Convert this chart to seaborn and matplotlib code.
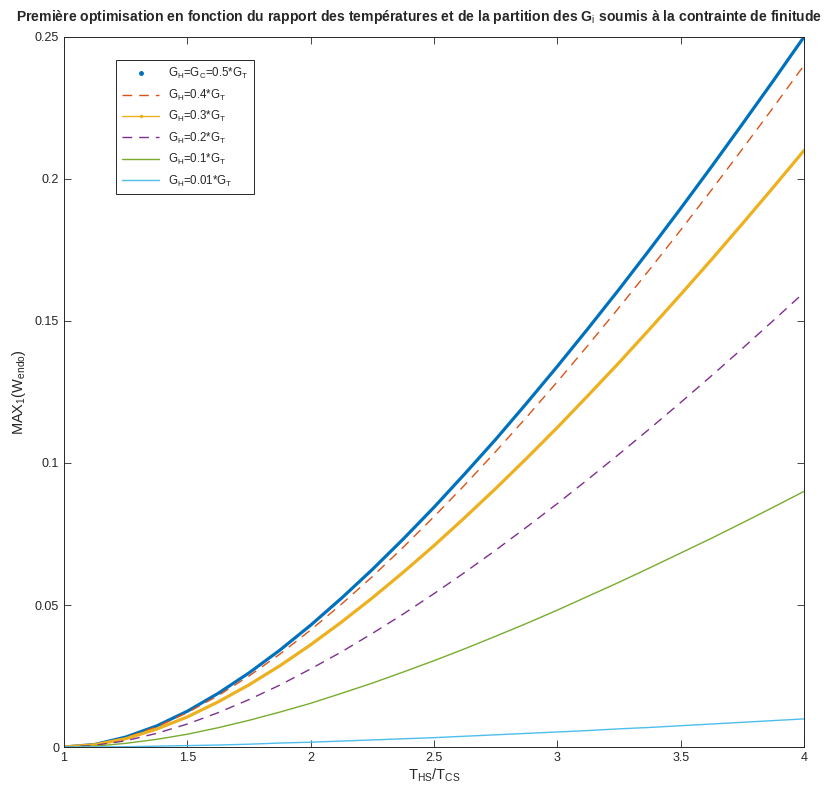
import matplotlib
matplotlib.use("Agg")
import matplotlib.pyplot as plt
from matplotlib.lines import Line2D
import seaborn as sns
import pandas as pd

# ratio T_HS/T_CS
tau = [1.0, 1.125, 1.25, 1.375, 1.5, 1.625, 1.75, 1.875, 2.0, 2.125, 2.25, 2.375, 2.5,
       2.625, 2.75, 2.875, 3.0, 3.125, 3.25, 3.375, 3.5, 3.625, 3.75, 3.875, 4.0]

# values, one list per G_H partition
w_05 = [0, 0.0009, 0.0035, 0.0074, 0.0126, 0.0189, 0.0261, 0.0341, 0.0429, 0.0524, 0.0625, 0.0732, 0.0844,
        0.0962, 0.1083, 0.1210, 0.1340, 0.1474, 0.1611, 0.1752, 0.1896, 0.2043, 0.2193, 0.2345, 0.25]
w_04 = [0, 0.0009, 0.0033, 0.0071, 0.0121, 0.0181, 0.0250, 0.0327, 0.0412, 0.0503, 0.0600, 0.0703, 0.0811,
        0.0923, 0.1040, 0.1161, 0.1286, 0.1415, 0.1547, 0.1682, 0.1820, 0.1961, 0.2105, 0.2251, 0.24]
w_03 = [0, 0.0008, 0.0029, 0.0063, 0.0106, 0.0159, 0.0219, 0.0286, 0.0360, 0.0440, 0.0525, 0.0615, 0.0709,
        0.0808, 0.0910, 0.1016, 0.1125, 0.1238, 0.1353, 0.1472, 0.1593, 0.1716, 0.1842, 0.1970, 0.21]
w_02 = [0, 0.0006, 0.0022, 0.0048, 0.0081, 0.0121, 0.0167, 0.0218, 0.0275, 0.0335, 0.0400, 0.0468, 0.0540,
        0.0615, 0.0693, 0.0774, 0.0857, 0.0943, 0.1031, 0.1121, 0.1213, 0.1307, 0.1403, 0.1501, 0.16]
w_01 = [0, 0.0003, 0.0013, 0.0027, 0.0045, 0.0068, 0.0094, 0.0123, 0.0154, 0.0189, 0.0225, 0.0264, 0.0304,
        0.0346, 0.0390, 0.0435, 0.0482, 0.0531, 0.0580, 0.0631, 0.0683, 0.0735, 0.0789, 0.0844, 0.09]
w_001 = [0, 0.00004, 0.0001, 0.0003, 0.0005, 0.0007, 0.0010, 0.0014, 0.0017, 0.0021, 0.0025, 0.0029, 0.0033,
         0.0038, 0.0043, 0.0048, 0.0053, 0.0058, 0.0064, 0.0069, 0.0075, 0.0081, 0.0087, 0.0093, 0.0099]

labels = [r"G$_H$=G$_C$=0.5*G$_T$", r"G$_H$=0.4*G$_T$", r"G$_H$=0.3*G$_T$",
          r"G$_H$=0.2*G$_T$", r"G$_H$=0.1*G$_T$", r"G$_H$=0.01*G$_T$"]
series = [w_05, w_04, w_03, w_02, w_01, w_001]
colors = ["#0072BD", "#D95319", "#EDB120", "#7E2F8E", "#77AC30", "#4DBEEE"]
styles = ["-", (0, (7, 5)), "-", (0, (7, 5)), "-", "-"]
widths = [2.3, 1.0, 2.3, 1.0, 1.0, 1.0]

sns.set_style("white")
plt.rcParams["font.family"] = ["Liberation Sans", "DejaVu Sans"]
plt.rcParams["mathtext.fontset"] = "custom"
plt.rcParams["mathtext.rm"] = "Liberation Sans"
plt.rcParams["mathtext.it"] = "Liberation Sans"

fig = plt.figure(figsize=(8.38, 7.89), dpi=100)
ax = fig.add_axes([0.0764, 0.0532, 0.883, 0.900])

for vals, c, ls, lw in zip(series, colors, styles, widths):
    df = pd.DataFrame({"tau": tau, "w": vals})
    sns.lineplot(data=df, x="tau", y="w", ax=ax, color=c, linestyle=ls, linewidth=lw)

ax.set_xlim(1, 4)
ax.set_ylim(0, 0.25)
ax.set_xticks([1, 1.5, 2, 2.5, 3, 3.5, 4])
ax.set_xticklabels(["1", "1.5", "2", "2.5", "3", "3.5", "4"])
ax.set_yticks([0, 0.05, 0.1, 0.15, 0.2, 0.25])
ax.set_yticklabels(["0", "0.05", "0.1", "0.15", "0.2", "0.25"])
ax.tick_params(direction="in", length=5, width=0.6, labelsize=9, top=True, right=True,
               bottom=True, left=True, labeltop=False, labelright=False)
for s in ax.spines.values():
    s.set_linewidth(0.7)
    s.set_color("#262626")

ax.set_xlabel(r"T$_{HS}$/T$_{CS}$", fontsize=10.5, labelpad=2)
ax.set_ylabel(r"MAX$_1$(W$_{endo}$)", fontsize=10.5, labelpad=5)
fig.text(0.5, 0.978,
         "Première optimisation en fonction du rapport des températures et de la partition des G$_\\mathrm{i}$ soumis à la contrainte de finitude",
         ha="center", va="center", fontsize=10.1, fontweight="bold")

handles = [
    Line2D([], [], color=colors[0], linestyle="none", marker=".", markersize=5),
    Line2D([], [], color=colors[1], linestyle=(0, (7, 5)), linewidth=1),
    Line2D([], [], color=colors[2], linestyle="-", marker=".", markersize=3, linewidth=1),
    Line2D([], [], color=colors[3], linestyle=(0, (7, 5)), linewidth=1),
    Line2D([], [], color=colors[4], linestyle="-", linewidth=1),
    Line2D([], [], color=colors[5], linestyle="-", linewidth=1),
]
leg = ax.legend(handles, labels, loc="upper left", bbox_to_anchor=(0.063, 0.975),
                fontsize=8.3, frameon=True, fancybox=False, framealpha=1,
                edgecolor="#262626", handlelength=3.2, borderpad=0.5, labelspacing=0.55,
                markerfirst=True)
leg.get_frame().set_linewidth(0.7)

fig.savefig("out.png", dpi=100)
